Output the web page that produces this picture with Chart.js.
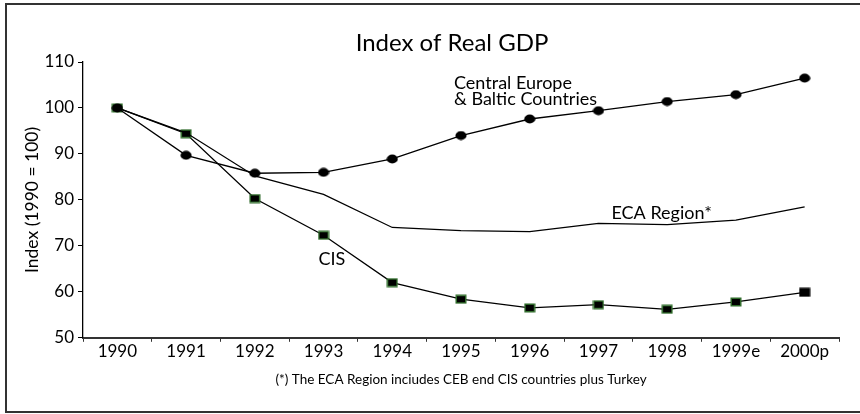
<!DOCTYPE html>
<html>
<head>
<meta charset="utf-8">
<script src="https://cdn.jsdelivr.net/npm/chart.js@4"></script>
<style>
  html, body { margin: 0; padding: 0; background: #fff; }
  #wrap { width: 860px; height: 414px; }
</style>
</head>
<body>
<div id="wrap"><canvas id="gdpChart" width="860" height="414"></canvas></div>
<script>
// index of real GDP, 1990 = 100
const years = ['1990', '1991', '1992', '1993', '1994', '1995', '1996', '1997', '1998', '1999e', '2000p'];
const cebValues = [100, 89.7, 85.8, 86.0, 88.9, 94.0, 97.6, 99.4, 101.4, 102.9, 106.5];
const ecaValues = [100, 94.6, 85.2, 81.2, 74.0, 73.3, 73.1, 74.9, 74.6, 75.6, 78.5];
const cisValues = [100, 94.4, 80.3, 72.3, 62.0, 58.4, 56.5, 57.2, 56.2, 57.8, 59.9];
const yTicks = [50, 60, 70, 80, 90, 100, 110];

const FONT = 'Lato, "DejaVu Sans", sans-serif';
const GREEN = '#2f6b2a';

// small marker images (the originals are slightly wider than tall)
function makeSquare(withEdge) {
    const c = document.createElement('canvas');
    c.width = 12; c.height = 10;
    const g = c.getContext('2d');
    g.fillStyle = withEdge ? GREEN : '#000';
    g.fillRect(0.5, 0.5, 11, 9);
    g.fillStyle = '#000';
    g.fillRect(2, 2, 8, 6);
    return c;
}
function makeDot() {
    const c = document.createElement('canvas');
    c.width = 12; c.height = 10;
    const g = c.getContext('2d');
    g.fillStyle = '#000';
    g.beginPath();
    g.ellipse(6, 5, 5.6, 4.4, 0, 0, Math.PI * 2);
    g.fill();
    return c;
}
const squareEdge = makeSquare(true);
const squarePlain = makeSquare(false);
const dot = makeDot();
const cisStyles = years.map((y, i) => i === years.length - 1 ? squarePlain : squareEdge);

// frame, title, series labels
const decorations = {
    id: 'decorations',
    afterDraw(chart) {
        const ctx = chart.ctx;
        const xs = chart.scales.x;
        const ys = chart.scales.y;
        ctx.save();
        ctx.strokeStyle = '#333';
        ctx.lineWidth = 2;
        ctx.strokeRect(6, 4, 870, 408);

        ctx.fillStyle = '#000';
        ctx.textBaseline = 'middle';
        ctx.textAlign = 'center';
        ctx.font = '24px ' + FONT;
        ctx.fillText('Index of Real GDP', 452, 43);

        ctx.textAlign = 'left';
        ctx.font = '18px ' + FONT;
        const cx = xs.getPixelForValue(5) - 7;
        ctx.fillText('Central Europe', cx, ys.getPixelForValue(105.3));
        ctx.fillText('& Baltic Countries', cx, ys.getPixelForValue(101.9));
        ctx.fillText('ECA Region*', xs.getPixelForValue(7) + 13, ys.getPixelForValue(77.2));
        ctx.fillText('CIS', xs.getPixelForValue(3) - 5, ys.getPixelForValue(67.2));
        ctx.restore();
    }
};

new Chart(document.getElementById('gdpChart'), {
    type: 'line',
    data: {
        labels: years,
        datasets: [
            {
                label: 'Central Europe & Baltic Countries',
                data: cebValues,
                borderColor: '#000',
                borderWidth: 1.3,
                pointStyle: dot,
                tension: 0
            },
            {
                label: 'ECA Region*',
                data: ecaValues,
                borderColor: '#000',
                borderWidth: 1.3,
                pointRadius: 0,
                tension: 0
            },
            {
                label: 'CIS',
                data: cisValues,
                borderColor: '#000',
                borderWidth: 1.3,
                pointStyle: cisStyles,
                tension: 0
            }
        ]
    },
    options: {
        responsive: false,
        animation: false,
        devicePixelRatio: 1,
        layout: { padding: { left: 0, right: 21, top: 62, bottom: 0 } },
        plugins: {
            legend: { display: false },
            tooltip: { enabled: false },
            title: { display: false },
            subtitle: {
                display: true,
                position: 'bottom',
                fullSize: false,
                text: '(*) The ECA Region inciudes CEB end CIS countries plus Turkey',
                color: '#000',
                font: { family: FONT, size: 13.5, weight: 'normal' },
                padding: { top: 0, bottom: 26 }
            }
        },
        scales: {
            x: {
                offset: true,
                grid: { offset: true, drawOnChartArea: false, drawTicks: true, tickLength: 4, color: '#333' },
                border: { color: '#333', width: 2 },
                ticks: { color: '#000', padding: 0, autoSkip: false, maxRotation: 0, font: { family: FONT, size: 17 } },
                afterFit(scale) { scale.height = 34; }
            },
            y: {
                min: 50,
                max: 110,
                afterBuildTicks(scale) { scale.ticks = yTicks.map(v => ({ value: v })); },
                grid: { drawOnChartArea: false, drawTicks: true, tickLength: 5, color: '#000' },
                border: { color: '#000', width: 1.3 },
                ticks: { color: '#000', padding: 4, font: { family: FONT, size: 17 } },
                title: {
                    display: true,
                    text: 'Index (1990 = 100)',
                    color: '#000',
                    font: { family: FONT, size: 17.5 },
                    padding: { top: 22, bottom: 0 }
                },
                afterFit(scale) { scale.width = 83; }
            }
        }
    },
    plugins: [decorations]
});
</script>
</body>
</html>
